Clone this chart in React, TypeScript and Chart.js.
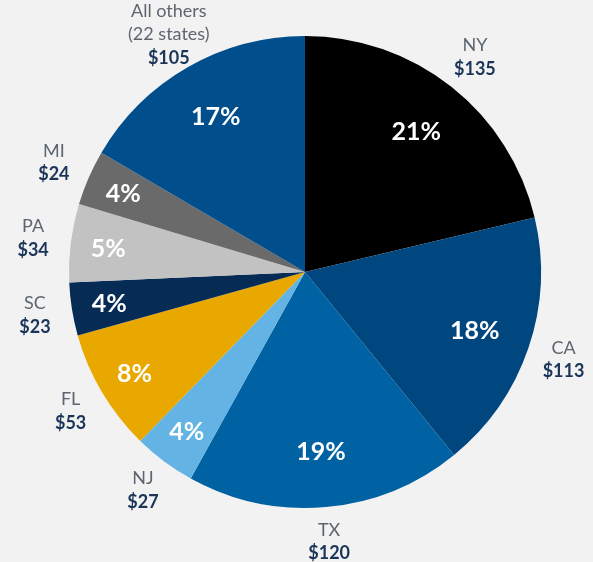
import React, { useEffect, useRef } from "react";
import { Chart, registerables } from "chart.js";

Chart.register(...registerables);

const states = ["NY", "CA", "TX", "NJ", "FL", "SC", "PA", "MI", "All others"];
const subLabels = ["", "", "", "", "", "", "", "", "(22 states)"];
const values = [135, 113, 120, 27, 53, 23, 34, 24, 105];
const colors = ["#000000", "#00467f", "#0061a3", "#63b4e4", "#e9a800", "#062c55", "#c2c2c2", "#6a6a6a", "#004e8c"];

const FONT = "Lato, 'Open Sans', sans-serif";

const labelPlugin = {
  id: "pieLabels",
  afterDatasetsDraw(chart: any) {
    const ctx = chart.ctx;
    const meta = chart.getDatasetMeta(0);
    const total = values.reduce((a, b) => a + b, 0);
    ctx.save();
    ctx.textAlign = "center";
    ctx.textBaseline = "middle";
    meta.data.forEach((arc: any, i: number) => {
      const p = arc.getProps(["x", "y", "startAngle", "endAngle", "outerRadius"], true);
      const mid = (p.startAngle + p.endAngle) / 2;
      const share = values[i] / total;
      const f = share < 0.1 ? 0.84 : 0.76;
      const px = p.x + Math.cos(mid) * p.outerRadius * f;
      const py = p.y + Math.sin(mid) * p.outerRadius * f;
      ctx.fillStyle = "#ffffff";
      ctx.font = `bold 25px ${FONT}`;
      ctx.fillText(Math.round(share * 100) + "%", px, py + 1);

      const ro = p.outerRadius + 38 - 3 * Math.max(0, Math.sin(mid));
      const ox = p.x + Math.cos(mid) * ro;
      const oy = p.y + Math.sin(mid) * ro;
      const lines: { t: string; bold: boolean }[] = [{ t: states[i], bold: false }];
      if (subLabels[i]) lines.push({ t: subLabels[i], bold: false });
      lines.push({ t: "$" + values[i], bold: true });
      const lh = 23.5;
      const startY = oy - ((lines.length - 1) * lh) / 2;
      lines.forEach((ln, j) => {
        ctx.font = ln.bold ? `bold 18px ${FONT}` : `400 18px ${FONT}`;
        ctx.fillStyle = ln.bold ? "#1b3558" : "#5d6670";
        ctx.fillText(ln.t, ox, startY + j * lh);
      });
    });
    ctx.restore();
  },
};

export default function App() {
  const ref = useRef<HTMLCanvasElement>(null);
  useEffect(() => {
    document.body.style.margin = "0";
    document.body.style.background = "#f2f2f2";
    const chart = new Chart(ref.current!, {
      type: "pie",
      data: {
        labels: states,
        datasets: [
          {
            data: values,
            backgroundColor: colors,
            borderWidth: 0,
          },
        ],
      },
      options: {
        responsive: false,
        animation: false,
        layout: { padding: { top: 36, bottom: 54, left: 69, right: 52 } },
        plugins: { legend: { display: false }, tooltip: { enabled: false } },
      },
      plugins: [labelPlugin],
    });
    return () => chart.destroy();
  }, []);
  return (
    <div style={{ width: 593, height: 562, background: "#f2f2f2" }}>
      <canvas ref={ref} width={593} height={562} style={{ display: "block" }} />
    </div>
  );
}
